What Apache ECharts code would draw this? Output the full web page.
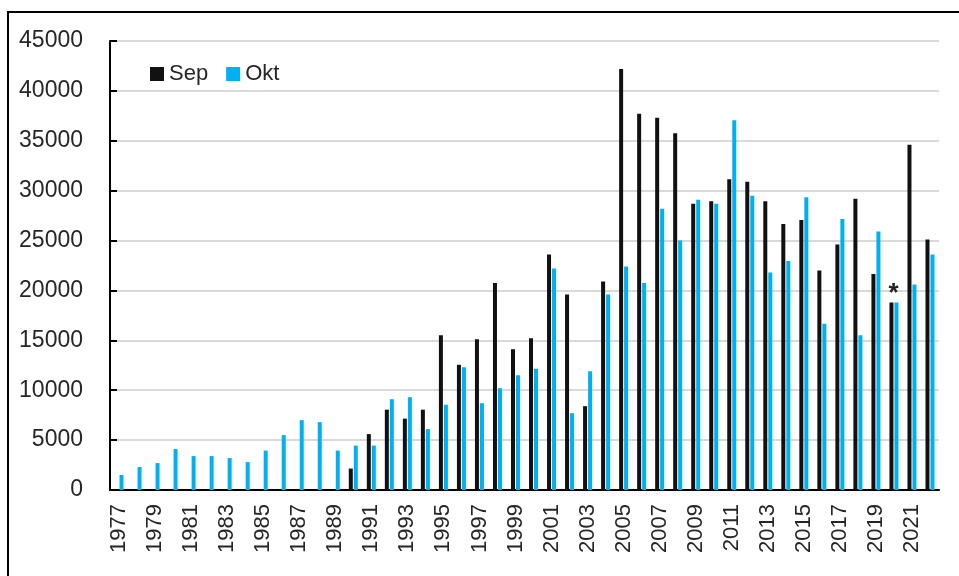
<!DOCTYPE html>
<html>
<head>
<meta charset="utf-8">
<script src="https://cdn.jsdelivr.net/npm/echarts@6/dist/echarts.min.js"></script>
<style>
	html, body { margin: 0; padding: 0; background: #fff; }
	#chart { width: 959px; height: 576px; }
</style>
</head>
<body>
<div id="chart"></div>
<script>
	// == 数据 ==
	const years = [];
	for (let y = 1977; y <= 2022; y++) years.push(String(y));

	const sepValues = [
		null, null, null, null, null, null, null, null, null, null, null, null, null,
		2150, 5600, 8050, 7150, 8050, 15500, 12550, 15100, 20750, 14100, 15200,
		23600, 19600, 8400, 20900, 42200, 37700, 37300, 35750, 28700, 28950,
		31150, 30900, 28950, 26650, 27050, 22000, 24600, 29200, 21650, 18800,
		34600, 25100,
	];

	const oktValues = [
		1500, 2300, 2700, 4100, 3400, 3400, 3200, 2800, 3950, 5500, 7000, 6800, 3950,
		4450, 4450, 9100, 9300, 6100, 8550, 12300, 8700, 10200, 11500, 12150,
		22200, 7700, 11900, 19600, 22400, 20750, 28200, 25000, 29100, 28700,
		37050, 29500, 21800, 22950, 29350, 16650, 27150, 15500, 25900, 18800,
		20600, 23600,
	];

	const yTicks = { min: 0, max: 45000, interval: 5000 };
	const markedYear = '2020';

	const chartDom = document.getElementById('chart');
	const myChart = echarts.init(chartDom);

	// 2020 的 Sep 柱子上加星号
	const sepData = sepValues.map((v, i) => {
		if (years[i] === markedYear) {
			return {
				value: v,
				label: {
					show: true,
					position: 'top',
					formatter: '*',
					fontSize: 26,
					fontWeight: 'bold',
					color: '#222',
					offset: [2, 9],
				},
			};
		}
		return v;
	});

	const option = {
		animation: false,
		textStyle: { fontFamily: 'Liberation Sans, Arial, sans-serif' },
		graphic: [
			{
				type: 'rect',
				shape: { x: 8, y: 12, width: 1000, height: 700 },
				style: { fill: 'none', stroke: '#000', lineWidth: 2 },
				silent: true,
			},
		],
		legend: {
			left: 145,
			top: 58,
			icon: 'rect',
			itemWidth: 14,
			itemHeight: 14,
			itemGap: 18,
			textStyle: { fontSize: 22, color: '#262626' },
			data: ['Sep', 'Okt'],
		},
		grid: {
			left: 110,
			right: 20,
			top: 41,
			bottom: 86,
		},
		xAxis: {
			type: 'category',
			data: years,
			axisLine: { lineStyle: { color: '#000', width: 2 } },
			axisTick: { show: false },
			axisLabel: {
				interval: 1,
				rotate: 90,
				fontSize: 22,
				color: '#262626',
				margin: 14,
			},
		},
		yAxis: {
			type: 'value',
			min: yTicks.min,
			max: yTicks.max,
			interval: yTicks.interval,
			axisLine: { show: true, lineStyle: { color: '#000', width: 2 } },
			axisTick: { show: true, inside: true, length: 7, lineStyle: { color: '#000', width: 2 } },
			axisLabel: {
				fontSize: 23,
				color: '#262626',
				margin: 27,
				formatter: (v) => String(v),
			},
			splitLine: { lineStyle: { color: '#d9d9d9', width: 2 } },
		},
		series: [
			{
				name: 'Sep',
				type: 'bar',
				barWidth: 4,
				barGap: '25%',
				itemStyle: { color: '#111111' },
				data: sepData,
			},
			{
				name: 'Okt',
				type: 'bar',
				barWidth: 4,
				itemStyle: { color: '#00b0f0' },
				data: oktValues,
			},
		],
	};

	option && myChart.setOption(option);
</script>
</body>
</html>
